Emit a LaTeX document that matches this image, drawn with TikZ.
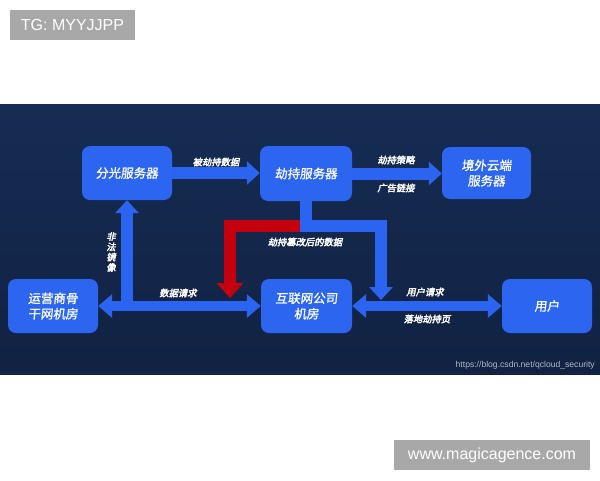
\documentclass[tikz,border=0pt]{standalone}
\usepackage{fontspec}
\setmainfont{Liberation Sans}
\newfontfamily\cjkbox[FakeBold=1,FakeSlant=0.1]{Noto Sans CJK SC}
\newfontfamily\cjklab[FakeBold=3,FakeSlant=0.2]{Noto Sans CJK SC}
\usetikzlibrary{arrows.meta}
\definecolor{navyA}{RGB}{22,44,84}
\definecolor{navyB}{RGB}{17,34,66}
\definecolor{boxblue}{RGB}{43,101,240}
\definecolor{arrblue}{RGB}{44,100,242}
\definecolor{redarr}{RGB}{196,0,14}
\definecolor{wmgray}{RGB}{168,168,168}
\definecolor{urlgray}{RGB}{176,186,202}
\tikzset{
  srvbox/.style={fill=boxblue, rounded corners=8pt, minimum width=90pt, minimum height=54pt,
    text=white, align=center, font=\cjkbox\fontsize{12.5}{15.5}\selectfont, inner sep=0pt},
  lab/.style={text=white, font=\cjklab\fontsize{9.3}{10.3}\selectfont, inner sep=0pt, align=center},
  barrow/.style={draw=arrblue, line width=12pt, miter limit=10, line join=miter,
    -{Triangle[width=23pt,length=13pt]}},
  rarrow/.style={draw=redarr, line width=12pt, line join=miter,
    -{Triangle[width=26pt,length=15pt]}},
  darrow/.style={draw=arrblue, line width=10pt,
    {Triangle[width=23pt,length=14pt]}-{Triangle[width=23pt,length=14pt]}},
  wmbox/.style={fill=wmgray, text=white, font=\fontsize{16}{18}\selectfont, inner sep=0pt}
}
\begin{document}
\begin{tikzpicture}[x=1pt,y=-1pt]
\useasboundingbox (0,0) rectangle (600,480);
\fill[white] (0,0) rectangle (600,480);
% panel
\shade[top color=navyA, bottom color=navyB] (0,104) rectangle (600,374);

% watermarks
\node[wmbox, minimum width=125pt, minimum height=30pt] (wm1) at (72.5,25) {TG: MYYJJPP};
\node[wmbox, minimum width=196pt, minimum height=30pt] (wm2) at (492,455) {www.magicagence.com};
\node[text=urlgray, font=\fontsize{8.6}{10}\selectfont, inner sep=0pt, anchor=east] (url) at (595,365) {https://blog.csdn.net/qcloud\_security};

% boxes
\node[srvbox] (fg) at (127,173) {分光服务器};
\node[srvbox, minimum width=92pt, minimum height=55pt] (jc) at (306,173.5) {劫持服务器};
\node[srvbox, minimum width=89pt, minimum height=52pt] (jw) at (486.5,173) {境外云端\\服务器};
\node[srvbox] (yy) at (53,306) {运营商骨\\干网机房};
\node[srvbox, minimum width=91pt] (hl) at (306.5,306) {互联网公司\\机房};
\node[srvbox] (yh) at (547,306) {用户};

% junction coordinates
\coordinate (c0) at (306,226);
\coordinate (cr) at (381,226);
\coordinate (tb) at (381,300);
\coordinate (cl) at (230,226);
\coordinate (tr) at (230,298);
\coordinate (j1) at (fg.south |- yy.east);

% arrows
\draw[barrow] (fg.east) -- (fg.east -| jc.west);
\draw[barrow] (jc.east) -- (jc.east -| jw.west);
\draw[darrow] (yy.east) -- (hl.west);
\draw[darrow] (hl.east) -- (yh.west);
\draw[barrow] (j1) -- (fg.south);
\draw[rarrow] (c0) -- (cl) -- (tr);
\draw[barrow] (jc.south) -- (c0) -- (cr) -- (tb);

% labels
\node[lab] (l1) at (216,162) {被劫持数据};
\node[lab] (l2) at (396,160) {劫持策略};
\node[lab] (l3) at (396,188) {广告链接};
\node[lab] (l4) at (305,242) {劫持篡改后的数据};
\node[lab] (l5) at (178,293) {数据请求};
\node[lab] (l6) at (425,292) {用户请求};
\node[lab] (l7) at (427,319) {落地劫持页};
\node[lab] (l8) at (111,252) {非\\法\\镜\\像};
\end{tikzpicture}
\end{document}
